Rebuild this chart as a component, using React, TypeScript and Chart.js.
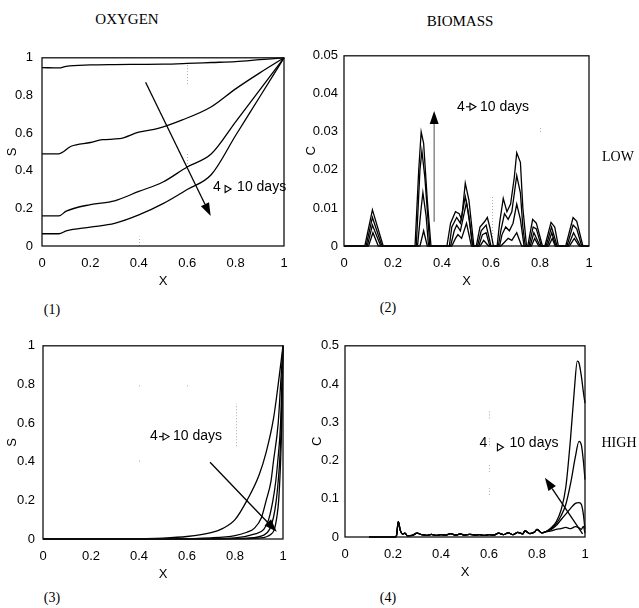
import React, { useEffect, useRef } from 'react';
import { Chart, registerables } from 'chart.js';

Chart.register(...registerables);
Chart.defaults.color = '#000';
Chart.defaults.font.family = '"Liberation Sans", Arial, sans-serif';

type Pt = [number, number];
type Guide = [number, number, number]; // x, y from, y to

// ---------- tick values / labels ----------
const X_TICK_VALUES = [0, 0.2, 0.4, 0.6, 0.8, 1];
const X_TICK_LABELS = ['0', '0.2', '0.4', '0.6', '0.8', '1'];
const S_TICK_VALUES = [0, 0.2, 0.4, 0.6, 0.8, 1];
const S_TICK_LABELS = ['0', '0.2', '0.4', '0.6', '0.8', '1'];
const C_LOW_TICK_VALUES = [0, 0.01, 0.02, 0.03, 0.04, 0.05];
const C_LOW_TICK_LABELS = ['0', '0.01', '0.02', '0.03', '0.04', '0.05'];
const C_HIGH_TICK_VALUES = [0, 0.1, 0.2, 0.3, 0.4, 0.5];
const C_HIGH_TICK_LABELS = ['0', '0.1', '0.2', '0.3', '0.4', '0.5'];

// ---------- panel 1 : oxygen, low ----------
const LOW_S_1: Pt[] = [[0, 0.948], [0.07, 0.946], [0.1, 0.955], [0.2, 0.962], [0.3, 0.964], [0.4, 0.965], [0.5, 0.966], [0.6, 0.97], [0.7, 0.975], [0.8, 0.98], [0.9, 0.99], [1, 1]];
const LOW_S_2: Pt[] = [[0, 0.49], [0.07, 0.49], [0.12, 0.53], [0.2, 0.55], [0.25, 0.565], [0.32, 0.57], [0.4, 0.605], [0.48, 0.625], [0.58, 0.67], [0.7, 0.74], [0.8, 0.835], [0.9, 0.92], [1, 1]];
const LOW_S_3: Pt[] = [[0, 0.16], [0.07, 0.16], [0.1, 0.185], [0.2, 0.22], [0.3, 0.24], [0.4, 0.29], [0.5, 0.34], [0.6, 0.42], [0.7, 0.49], [0.8, 0.66], [0.9, 0.83], [1, 1]];
const LOW_S_4: Pt[] = [[0, 0.065], [0.07, 0.065], [0.1, 0.08], [0.2, 0.1], [0.3, 0.12], [0.4, 0.165], [0.5, 0.225], [0.6, 0.3], [0.7, 0.38], [0.8, 0.587], [0.9, 0.793], [1, 1]];

// ---------- panel 2 : biomass, low ----------
const LOW_C_1: Pt[] = [[0, 0], [0.1, 0], [0.118, 0.0035], [0.14, 0], [0.31, 0], [0.325, 0.004], [0.34, 0], [0.44, 0], [0.455, 0.002], [0.465, 0.003], [0.48, 0.002], [0.5, 0.006], [0.52, 0], [0.555, 0], [0.57, 0.0015], [0.59, 0], [0.64, 0], [0.655, 0.001], [0.67, 0.002], [0.685, 0.0015], [0.705, 0.0035], [0.725, 0], [0.765, 0], [0.778, 0.002], [0.795, 0], [0.835, 0], [0.85, 0.002], [0.862, 0], [0.92, 0], [0.94, 0.002], [0.96, 0], [1, 0]];
const LOW_C_2: Pt[] = [[0, 0], [0.095, 0], [0.116, 0.0055], [0.15, 0], [0.3, 0], [0.315, 0.01], [0.322, 0.014], [0.335, 0.008], [0.345, 0], [0.435, 0], [0.45, 0.004], [0.46, 0.0055], [0.475, 0.004], [0.5, 0.0115], [0.515, 0.005], [0.525, 0], [0.55, 0], [0.565, 0.003], [0.58, 0.0035], [0.595, 0], [0.635, 0], [0.645, 0.003], [0.66, 0.005], [0.675, 0.004], [0.69, 0.006], [0.705, 0.011], [0.72, 0.007], [0.735, 0], [0.76, 0], [0.775, 0.0035], [0.8, 0], [0.83, 0], [0.848, 0.0035], [0.865, 0], [0.915, 0], [0.937, 0.0035], [0.965, 0], [1, 0]];
const LOW_C_3: Pt[] = [[0, 0], [0.09, 0], [0.116, 0.0075], [0.155, 0], [0.295, 0], [0.31, 0.02], [0.318, 0.025], [0.33, 0.018], [0.345, 0.005], [0.35, 0], [0.43, 0], [0.44, 0.005], [0.46, 0.0075], [0.475, 0.006], [0.495, 0.013], [0.51, 0.008], [0.525, 0], [0.545, 0], [0.56, 0.004], [0.58, 0.0055], [0.6, 0], [0.63, 0], [0.64, 0.004], [0.655, 0.0085], [0.67, 0.007], [0.685, 0.009], [0.705, 0.0185], [0.72, 0.014], [0.73, 0.005], [0.74, 0], [0.755, 0], [0.772, 0.005], [0.785, 0.0045], [0.805, 0], [0.825, 0], [0.847, 0.005], [0.87, 0], [0.91, 0], [0.935, 0.0055], [0.95, 0.0045], [0.97, 0], [1, 0]];
const LOW_C_4: Pt[] = [[0, 0], [0.085, 0], [0.116, 0.0095], [0.16, 0], [0.29, 0], [0.305, 0.02], [0.315, 0.03], [0.325, 0.027], [0.34, 0.012], [0.355, 0], [0.42, 0], [0.435, 0.006], [0.455, 0.009], [0.47, 0.0085], [0.48, 0.007], [0.495, 0.0165], [0.51, 0.012], [0.53, 0], [0.54, 0], [0.555, 0.005], [0.575, 0.0065], [0.585, 0.0075], [0.595, 0.005], [0.61, 0], [0.625, 0], [0.635, 0.006], [0.65, 0.0125], [0.665, 0.009], [0.68, 0.011], [0.695, 0.018], [0.705, 0.0245], [0.72, 0.022], [0.73, 0.01], [0.745, 0], [0.75, 0], [0.77, 0.007], [0.785, 0.006], [0.81, 0], [0.82, 0], [0.845, 0.0062], [0.86, 0.005], [0.875, 0], [0.905, 0], [0.935, 0.0075], [0.95, 0.0065], [0.975, 0], [1, 0]];

// ---------- panel 3 : oxygen, high ----------
const HIGH_S_1: Pt[] = [[0, 0], [0.3, 0.001], [0.5, 0.005], [0.6, 0.013], [0.7, 0.033], [0.75, 0.055], [0.8, 0.1], [0.85, 0.2], [0.9, 0.33], [0.93, 0.45], [0.96, 0.62], [0.98, 0.8], [1, 1]];
const HIGH_S_2: Pt[] = [[0, 0], [0.5, 0.001], [0.7, 0.006], [0.8, 0.018], [0.85, 0.035], [0.88, 0.055], [0.91, 0.11], [0.93, 0.2], [0.95, 0.3], [0.96, 0.4], [0.98, 0.6], [0.99, 0.8], [1, 1]];
const HIGH_S_3: Pt[] = [[0, 0], [0.6, 0.001], [0.8, 0.006], [0.88, 0.025], [0.92, 0.05], [0.94, 0.1], [0.958, 0.2], [0.97, 0.3], [0.978, 0.4], [0.99, 0.6], [0.995, 0.8], [1, 1]];
const HIGH_S_4: Pt[] = [[0, 0], [0.7, 0.001], [0.85, 0.005], [0.92, 0.02], [0.944, 0.05], [0.96, 0.11], [0.972, 0.2], [0.98, 0.3], [0.986, 0.4], [0.993, 0.6], [0.997, 0.8], [1, 1]];
const HIGH_S_5: Pt[] = [[0, 0], [0.8, 0.001], [0.9, 0.005], [0.95, 0.025], [0.964, 0.05], [0.975, 0.12], [0.982, 0.2], [0.99, 0.4], [0.995, 0.6], [0.998, 0.8], [1, 1]];

// ---------- panel 4 : biomass, high ----------
const HIGH_C_BASE: Pt[] = [[0.1, 0], [0.21, 0], [0.215, 0.005], [0.222, 0.04], [0.23, 0.018], [0.24, 0.008], [0.25, 0.01], [0.26, 0.003], [0.28, 0.004], [0.3, 0.01], [0.32, 0.006], [0.34, 0.004], [0.36, 0.007], [0.38, 0.004], [0.4, 0.006], [0.42, 0.005], [0.44, 0.009], [0.46, 0.005], [0.48, 0.008], [0.5, 0.005], [0.52, 0.007], [0.54, 0.005], [0.56, 0.006], [0.58, 0.004], [0.6, 0.006], [0.62, 0.005], [0.64, 0.01], [0.66, 0.006], [0.68, 0.011], [0.7, 0.006], [0.72, 0.012], [0.74, 0.008], [0.75, 0.016], [0.77, 0.009], [0.79, 0.013], [0.8, 0.02], [0.82, 0.011]];
const HIGH_C_TAIL_1: Pt[] = [[0.84, 0.014], [0.86, 0.016], [0.88, 0.02], [0.9, 0.022], [0.92, 0.025], [0.94, 0.022], [0.96, 0.027], [0.975, 0.024], [0.985, 0.02], [0.993, 0.028], [1, 0.01]];
const HIGH_C_TAIL_2: Pt[] = [[0.84, 0.015], [0.86, 0.02], [0.88, 0.03], [0.9, 0.045], [0.92, 0.06], [0.94, 0.075], [0.96, 0.088], [0.975, 0.09], [0.985, 0.085], [0.993, 0.06], [1, 0.02]];
const HIGH_C_TAIL_3: Pt[] = [[0.84, 0.015], [0.86, 0.022], [0.88, 0.035], [0.9, 0.055], [0.92, 0.085], [0.94, 0.14], [0.96, 0.21], [0.975, 0.25], [0.985, 0.24], [0.993, 0.2], [1, 0.15]];
const HIGH_C_TAIL_4: Pt[] = [[0.84, 0.015], [0.86, 0.025], [0.88, 0.04], [0.9, 0.07], [0.92, 0.13], [0.94, 0.26], [0.955, 0.38], [0.968, 0.46], [0.975, 0.455], [0.985, 0.42], [0.993, 0.38], [1, 0.35]];

// ---------- annotation anchors (data coordinates) ----------
const ARROW_1: Pt[] = [[0.428, 0.87], [0.697, 0.16]];
const ARROW_2: Pt[] = [[0.368, 0.0064], [0.368, 0.0355]];
const ARROW_3: Pt[] = [[0.696, 0.397], [0.974, 0.037]];
const ARROW_4: Pt[] = [[0.99, 0.008], [0.833, 0.155]];
const NOTE_1: Pt = [0.707, 0.313];
const NOTE_2: Pt = [0.461, 0.0366];
const NOTE_3: Pt = [0.446, 0.53];
const NOTE_4: Pt = [0.56, 0.245];

// faint dotted remnants of grid lines seen in the print
const GUIDES_1: Guide[] = [[0.6, 0.86, 0.97], [0.4, 0, 0.05], [0.6, 0.42, 0.5]];
const GUIDES_2: Guide[] = [[0.603, 0, 0.013], [0.8, 0.03, 0.031]];
const GUIDES_3: Guide[] = [[0.805, 0.48, 0.7], [0.6, 0.79, 0.8], [0.4, 0.79, 0.8], [0.4, 0.4, 0.41]];
const GUIDES_4: Guide[] = [[0.6, 0.31, 0.33], [0.6, 0.24, 0.26], [0.6, 0.17, 0.19], [0.6, 0.11, 0.13]];

interface Box { left: number; top: number; right: number; bottom: number; }
interface PanelSpec {
  box: Box;
  yAxisWidth: number;
  tickPad: number;
  series: Pt[][];
  yMax: number;
  yTickValues: number[];
  yTickLabels: string[];
  yTitle: string;
  smooth: boolean;
  arrow: Pt[];
  arrowShaft: string;
  note: Pt;
  noteGap: number; // px from "4" to "10 days"
  triOffset: number; // px from "4" to small triangle
  noteStub: number;
  noteDrop: number;
  guides: Guide[];
}

const PANELS: PanelSpec[] = [
  {
    box: { left: 42, top: 51, right: 284, bottom: 246 }, yAxisWidth: 37, tickPad: 9,
    series: [LOW_S_1, LOW_S_2, LOW_S_3, LOW_S_4], yMax: 1,
    yTickValues: S_TICK_VALUES, yTickLabels: S_TICK_LABELS, yTitle: 'S', smooth: true,
    arrow: ARROW_1, arrowShaft: '#000', note: NOTE_1, noteGap: 24, triOffset: 12, noteStub: 0, noteDrop: 2,
    guides: GUIDES_1,
  },
  {
    box: { left: 344, top: 52, right: 589, bottom: 246 }, yAxisWidth: 40, tickPad: 6,
    series: [LOW_C_1, LOW_C_2, LOW_C_3, LOW_C_4], yMax: 0.05,
    yTickValues: C_LOW_TICK_VALUES, yTickLabels: C_LOW_TICK_LABELS, yTitle: 'C', smooth: false,
    arrow: ARROW_2, arrowShaft: '#777', note: NOTE_2, noteGap: 23, triOffset: 13, noteStub: 4, noteDrop: 0,
    guides: GUIDES_2,
  },
  {
    box: { left: 43, top: 340, right: 283, bottom: 539 }, yAxisWidth: 38, tickPad: 8,
    series: [HIGH_S_1, HIGH_S_2, HIGH_S_3, HIGH_S_4, HIGH_S_5], yMax: 1,
    yTickValues: S_TICK_VALUES, yTickLabels: S_TICK_LABELS, yTitle: 'S', smooth: true,
    arrow: ARROW_3, arrowShaft: '#000', note: NOTE_3, noteGap: 23, triOffset: 13, noteStub: 4, noteDrop: 0,
    guides: GUIDES_3,
  },
  {
    box: { left: 345, top: 342, right: 585, bottom: 537 }, yAxisWidth: 35, tickPad: 6,
    series: [
      [...HIGH_C_BASE, ...HIGH_C_TAIL_1],
      [...HIGH_C_BASE, ...HIGH_C_TAIL_2],
      [...HIGH_C_BASE, ...HIGH_C_TAIL_3],
      [...HIGH_C_BASE, ...HIGH_C_TAIL_4],
    ], yMax: 0.5,
    yTickValues: C_HIGH_TICK_VALUES, yTickLabels: C_HIGH_TICK_LABELS, yTitle: 'C', smooth: true,
    arrow: ARROW_4, arrowShaft: '#000', note: NOTE_4, noteGap: 30, triOffset: 18, noteStub: 0, noteDrop: 4,
    guides: GUIDES_4,
  },
];

const PAD_TOP = 10;
const PAD_RIGHT = 14;
const X_AXIS_H = 43;

function drawArrow(ctx: CanvasRenderingContext2D, x1: number, y1: number, x2: number, y2: number, shaft: string) {
  const ang = Math.atan2(y2 - y1, x2 - x1);
  const headLen = 13, headW = 4.5;
  const bx = x2 - headLen * Math.cos(ang);
  const by = y2 - headLen * Math.sin(ang);
  ctx.save();
  ctx.strokeStyle = shaft;
  ctx.lineWidth = 1.3;
  ctx.beginPath();
  ctx.moveTo(x1, y1);
  ctx.lineTo(bx, by);
  ctx.stroke();
  ctx.fillStyle = '#000';
  ctx.beginPath();
  ctx.moveTo(x2, y2);
  ctx.lineTo(bx + headW * Math.sin(ang), by - headW * Math.cos(ang));
  ctx.lineTo(bx - headW * Math.sin(ang), by + headW * Math.cos(ang));
  ctx.closePath();
  ctx.fill();
  ctx.restore();
}

function Panel({ spec }: { spec: PanelSpec }) {
  const ref = useRef<HTMLCanvasElement>(null);
  const { box, yAxisWidth } = spec;
  const left = box.left - yAxisWidth;
  const top = box.top - PAD_TOP;
  const width = box.right + PAD_RIGHT - left;
  const height = box.bottom + X_AXIS_H - top;

  useEffect(() => {
    const deco = {
      id: 'deco',
      beforeDatasetsDraw(chart: any) {
        const ctx: CanvasRenderingContext2D = chart.ctx;
        const xs = chart.scales.x, ys = chart.scales.y;
        ctx.save();
        ctx.strokeStyle = '#aaa';
        ctx.lineWidth = 1;
        ctx.setLineDash([1, 2]);
        spec.guides.forEach(([gx, g0, g1]) => {
          const px = Math.round(xs.getPixelForValue(gx)) + 0.5;
          ctx.beginPath();
          ctx.moveTo(px, ys.getPixelForValue(g0));
          ctx.lineTo(px, ys.getPixelForValue(g1));
          ctx.stroke();
        });
        ctx.restore();
      },
      afterDatasetsDraw(chart: any) {
        const ctx: CanvasRenderingContext2D = chart.ctx;
        const { left: l, top: t, right: r, bottom: b } = chart.chartArea;
        const xs = chart.scales.x, ys = chart.scales.y;
        // frame
        ctx.save();
        ctx.strokeStyle = '#111';
        ctx.lineWidth = 1.3;
        ctx.strokeRect(l, t, r - l, b - t);
        ctx.restore();
        // arrow
        const [a0, a1] = spec.arrow;
        drawArrow(ctx, xs.getPixelForValue(a0[0]), ys.getPixelForValue(a0[1]),
          xs.getPixelForValue(a1[0]), ys.getPixelForValue(a1[1]), spec.arrowShaft);
        // note "4 -> 10 days"
        const nx = xs.getPixelForValue(spec.note[0]);
        const ny = ys.getPixelForValue(spec.note[1]);
        ctx.save();
        ctx.font = '14px "Liberation Sans", Arial, sans-serif';
        ctx.fillStyle = '#000';
        ctx.textBaseline = 'middle';
        ctx.textAlign = 'left';
        ctx.fillText('4', nx, ny);
        const triW = 6;
        const triX = nx + spec.triOffset;
        const cy = ny + spec.noteDrop;
        ctx.strokeStyle = '#000';
        ctx.lineWidth = 1.1;
        if (spec.noteStub > 0) {
          ctx.beginPath();
          ctx.moveTo(triX - spec.noteStub, cy);
          ctx.lineTo(triX, cy);
          ctx.stroke();
        }
        ctx.beginPath();
        ctx.moveTo(triX, cy - 3.5);
        ctx.lineTo(triX + triW, cy);
        ctx.lineTo(triX, cy + 3.5);
        ctx.closePath();
        ctx.stroke();
        ctx.fillText('10 days', nx + spec.noteGap, ny);
        ctx.restore();
      },
    };

    const chart = new Chart(ref.current as HTMLCanvasElement, {
      type: 'line',
      data: {
        datasets: spec.series.map((s) => ({
          data: s.map(([x, y]) => ({ x, y })),
          borderColor: '#000',
          borderWidth: 1.3,
          pointRadius: 0,
          fill: false,
          tension: spec.smooth ? 0.4 : 0,
          cubicInterpolationMode: spec.smooth ? 'monotone' : 'default',
          clip: 4,
        })),
      } as any,
      options: {
        animation: false,
        responsive: false,
        events: [],
        layout: { padding: { top: PAD_TOP, right: PAD_RIGHT, left: 0, bottom: 0 } },
        plugins: { legend: { display: false }, tooltip: { enabled: false } },
        scales: {
          x: {
            type: 'linear',
            min: 0,
            max: 1,
            grid: { display: false, drawTicks: false },
            border: { display: false },
            afterBuildTicks: (scale: any) => { scale.ticks = X_TICK_VALUES.map((v) => ({ value: v })); },
            afterFit: (scale: any) => { scale.height = X_AXIS_H; },
            ticks: {
              autoSkip: false, maxRotation: 0, padding: 10, color: '#000',
              font: { size: 13 },
              callback: (_v: any, i: number) => X_TICK_LABELS[i],
            },
            title: { display: true, text: 'X', color: '#000', font: { size: 13 }, padding: 0 },
          },
          y: {
            type: 'linear',
            min: 0,
            max: spec.yMax,
            grid: { display: false, drawTicks: false },
            border: { display: false },
            afterBuildTicks: (scale: any) => { scale.ticks = spec.yTickValues.map((v) => ({ value: v })); },
            afterFit: (scale: any) => { scale.width = spec.yAxisWidth; },
            ticks: {
              autoSkip: false, padding: spec.tickPad, color: '#000',
              font: { size: 13 },
              callback: (_v: any, i: number) => spec.yTickLabels[i],
            },
            title: { display: true, text: spec.yTitle, color: '#000', font: { size: 13 }, padding: 0 },
          },
        },
      } as any,
      plugins: [deco],
    });
    return () => chart.destroy();
  }, []);

  return (
    <canvas
      ref={ref}
      width={width}
      height={height}
      style={{ position: 'absolute', left, top, width, height }}
    />
  );
}

const serif: React.CSSProperties = {
  position: 'absolute',
  fontFamily: '"Liberation Serif", "Times New Roman", serif',
  fontSize: 15,
  color: '#000',
  transform: 'translate(-50%, -50%)',
  whiteSpace: 'nowrap',
  lineHeight: 1,
};

const LABELS: { text: string; x: number; y: number; size: number }[] = [
  { text: 'OXYGEN', x: 127, y: 19, size: 15 },
  { text: 'BIOMASS', x: 460, y: 21, size: 15 },
  { text: 'LOW', x: 618, y: 157, size: 14 },
  { text: 'HIGH', x: 619, y: 443, size: 14 },
  { text: '(1)', x: 52, y: 310, size: 14 },
  { text: '(2)', x: 388, y: 308, size: 14 },
  { text: '(3)', x: 52, y: 598, size: 14 },
  { text: '(4)', x: 388, y: 598, size: 14 },
];

export default function App() {
  return (
    <div style={{ position: 'absolute', left: 0, top: 0, width: 639, height: 608, background: '#fff', overflow: 'hidden' }}>
      {PANELS.map((p, i) => <Panel key={i} spec={p} />)}
      {LABELS.map((l) => (
        <div key={l.text} style={{ ...serif, left: l.x, top: l.y, fontSize: l.size }}>{l.text}</div>
      ))}
    </div>
  );
}
